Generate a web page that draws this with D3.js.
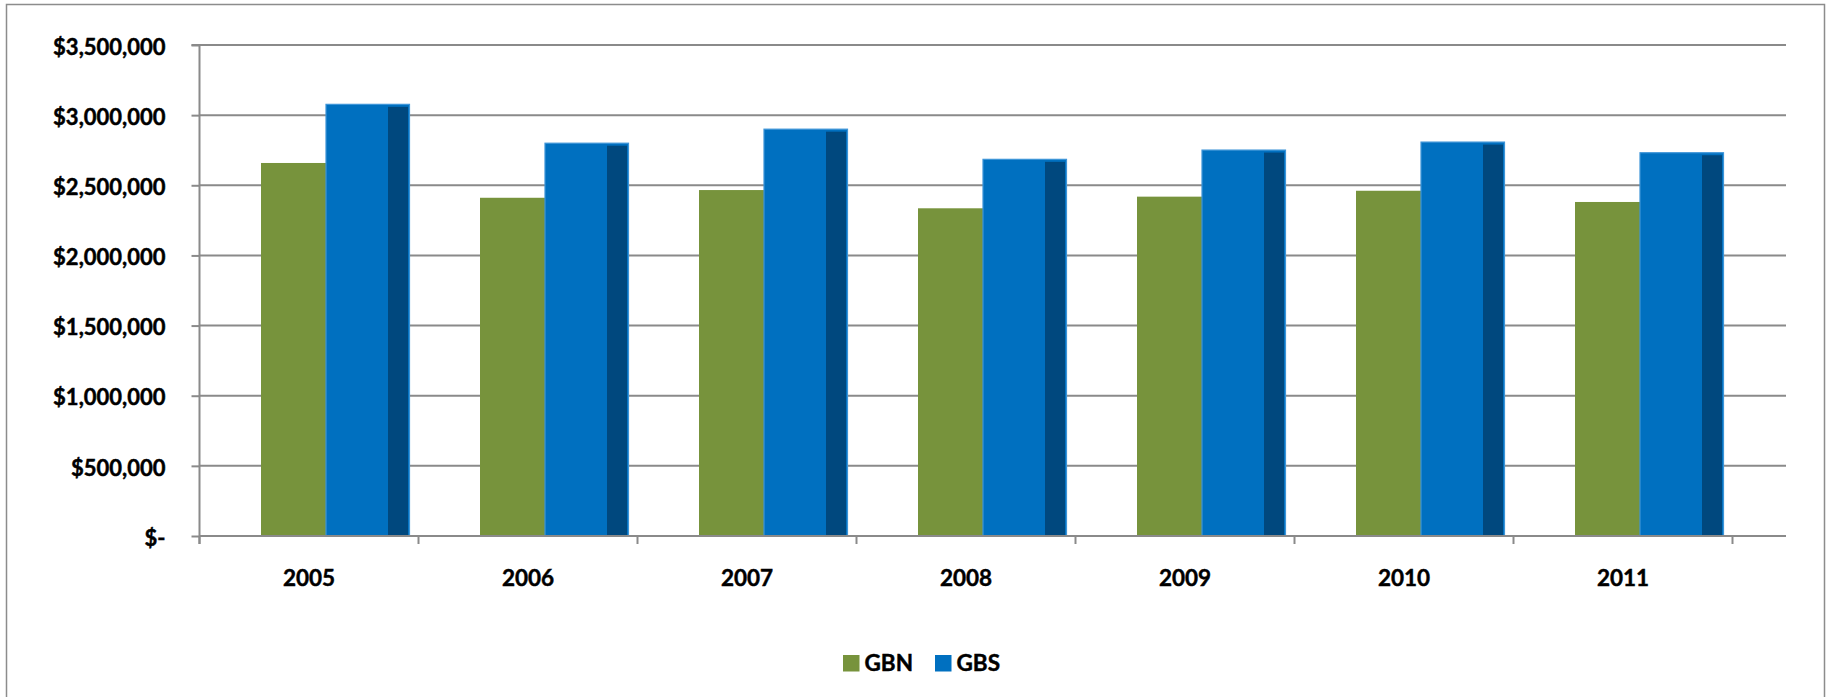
<!DOCTYPE html>
<html>
<head>
<meta charset="utf-8">
<script src="https://cdn.jsdelivr.net/npm/d3@7"></script>
<style>
  html, body { margin: 0; padding: 0; background: #fff; }
  svg { display: block; }
  text { font-family: Lato, "Open Sans", sans-serif; font-weight: bold; fill: #000; stroke: #000; stroke-width: 0.45px; }
</style>
</head>
<body>
<svg id="chart" width="1826" height="697"></svg>
<script>
// Annual totals by campus
const years = ["2005", "2006", "2007", "2008", "2009", "2010", "2011"];
const gbn = [2659000, 2411000, 2466000, 2336000, 2419000, 2461000, 2381000];
const gbs = [3077000, 2800000, 2900000, 2685000, 2751000, 2808000, 2732000];
const yTicks = [0, 500000, 1000000, 1500000, 2000000, 2500000, 3000000, 3500000];
const seriesNames = ["GBN", "GBS"];

const W = 1826, H = 697;
const plotLeft = 199.5, bandW = 219, plotRight = 1786;
const plotTop = 45, plotBottom = 536;

const svg = d3.select("#chart");

// outer frame
svg.append("path")
  .attr("d", `M6.5,${H} V4.5 H1824.5 V${H}`)
  .attr("fill", "none").attr("stroke", "#8c8c8c").attr("stroke-width", 1.5);

const x = d3.scaleBand().domain(years).range([plotLeft, plotLeft + bandW * years.length]).padding(0);
const y = d3.scaleLinear().domain([0, 3500000]).range([plotBottom, plotTop]);

const fmt = v => v === 0 ? "$-" : "$" + d3.format(",")(v);

// horizontal gridlines
svg.append("g").selectAll("line").data(yTicks.slice(1)).join("line")
  .attr("x1", plotLeft).attr("x2", plotRight)
  .attr("y1", d => y(d)).attr("y2", d => y(d))
  .attr("stroke", "#8a8a8a").attr("stroke-width", 2);

// y axis
const yAxis = d3.axisLeft(y).tickValues(yTicks).tickFormat(fmt).tickSize(8).tickPadding(26);
const gy = svg.append("g").attr("transform", `translate(${plotLeft},0)`).call(yAxis);
gy.select(".domain").attr("stroke", "#8a8a8a").attr("stroke-width", 2)
  .attr("d", `M-8,${plotTop}H0V${plotBottom + 8}`);
gy.selectAll(".tick line").attr("stroke", "#8a8a8a").attr("stroke-width", 2);
gy.selectAll(".tick text")
  .style("font-size", "22px").style("font-family", "Lato, sans-serif").style("font-weight", "bold")
  .attr("fill", "#000").attr("dy", "0.42em");

// bars
const gx = x.bandwidth();
const gStart = 61.5 / 219, gWidth = 65 / 219;
const bStart = 126.5 / 219, bWidth = 83.5 / 219, sideW = 20 / 219;

const bars = svg.append("g");
bars.selectAll("rect.gbn").data(years).join("rect").attr("class", "gbn")
  .attr("x", d => x(d) + gStart * gx)
  .attr("width", gWidth * gx)
  .attr("y", (d, i) => y(gbn[i]))
  .attr("height", (d, i) => y(0) - y(gbn[i]))
  .attr("fill", "#77933c");

bars.selectAll("rect.gbs").data(years).join("rect").attr("class", "gbs")
  .attr("x", d => x(d) + bStart * gx)
  .attr("width", bWidth * gx)
  .attr("y", (d, i) => y(gbs[i]))
  .attr("height", (d, i) => y(0) - y(gbs[i]))
  .attr("fill", "#0070c0")
  .attr("stroke", "#3d94d8").attr("stroke-width", 1.2);

bars.selectAll("rect.gbsSide").data(years).join("rect").attr("class", "gbsSide")
  .attr("x", d => x(d) + (bStart + bWidth - sideW) * gx - 1.5)
  .attr("width", sideW * gx)
  .attr("y", (d, i) => y(gbs[i]) + 2.5)
  .attr("height", (d, i) => y(0) - y(gbs[i]) - 2.5)
  .attr("fill", "#00487e");

// x axis
const xAxis = d3.axisBottom(x).tickSize(0).tickPadding(0);
const gxa = svg.append("g").attr("transform", `translate(0,${plotBottom})`).call(xAxis);
gxa.select(".domain").attr("stroke", "#8a8a8a").attr("stroke-width", 2)
  .attr("d", `M${plotLeft},0H${plotRight}`);
gxa.selectAll(".tick text")
  .style("font-size", "22.5px").style("font-family", "Lato, sans-serif").style("font-weight", "bold")
  .attr("fill", "#000").attr("y", 0).attr("dy", 0)
  .attr("transform", "translate(0,50)");

// category separators
const seps = d3.range(years.length + 1).map(i => plotLeft + i * bandW);
svg.append("g").selectAll("line").data(seps).join("line")
  .attr("x1", d => d).attr("x2", d => d)
  .attr("y1", plotBottom).attr("y2", plotBottom + 8)
  .attr("stroke", "#8a8a8a").attr("stroke-width", 2);

// legend
const legendColors = ["#77933c", "#0070c0"];
const legendX = [843, 935];
const lg = svg.append("g");
seriesNames.forEach((name, i) => {
  lg.append("rect").attr("x", legendX[i]).attr("y", 655).attr("width", 16.5).attr("height", 16.5)
    .attr("fill", legendColors[i]);
  lg.append("text").attr("x", legendX[i] + 21.5).attr("y", 671)
    .style("font-size", "22.5px").text(name);
});
</script>
</body>
</html>
